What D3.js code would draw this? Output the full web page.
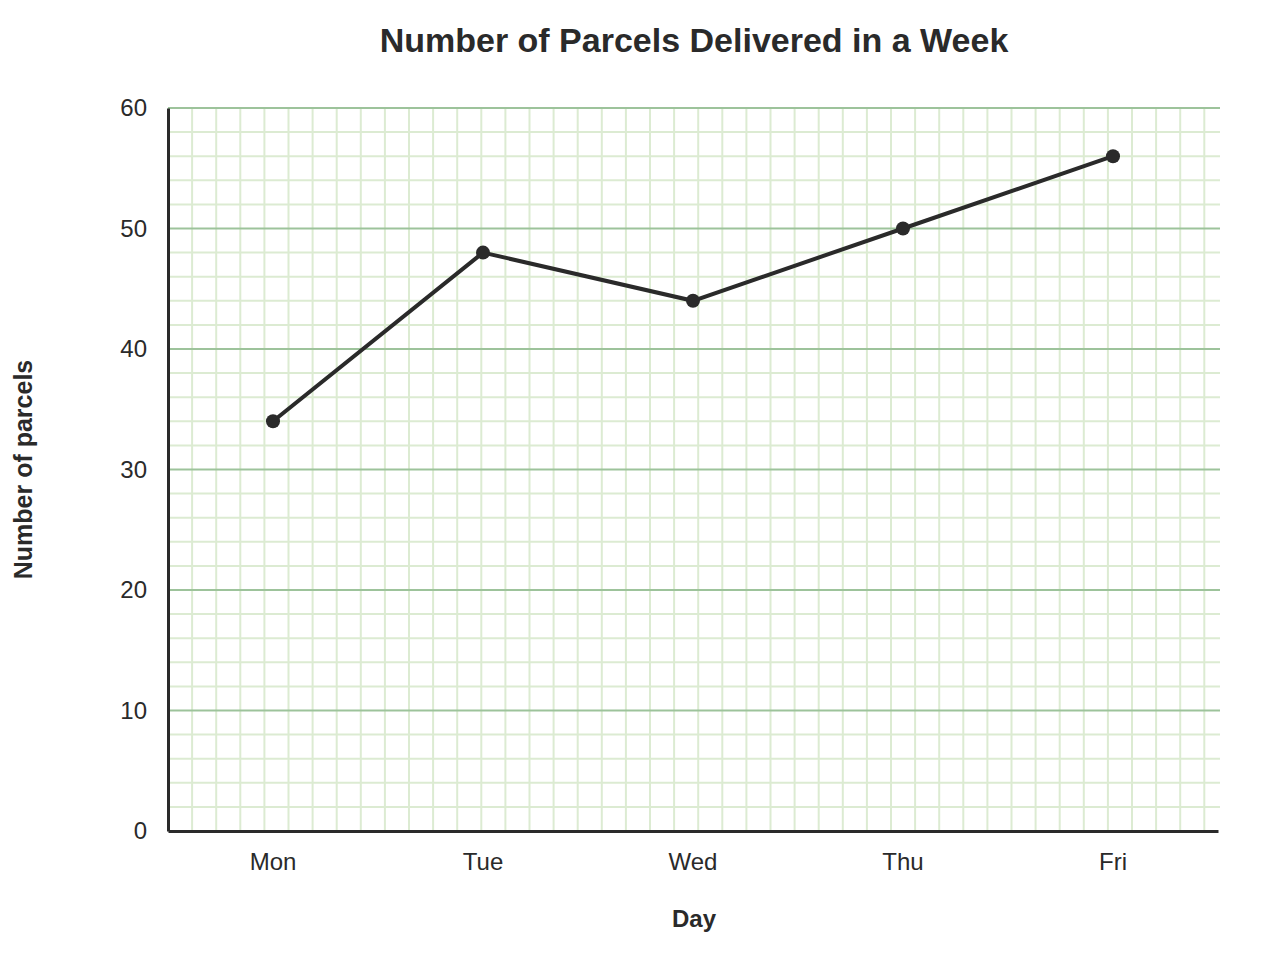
<!DOCTYPE html>
<html>
<head>
<meta charset="utf-8">
<script src="https://cdn.jsdelivr.net/npm/d3@7"></script>
<style>
  body { margin: 0; background: #fff; }
  text { font-family: "Liberation Sans", Arial, sans-serif; }
</style>
</head>
<body>
<div class="chart"></div>
<script>
var days = ["Mon", "Tue", "Wed", "Thu", "Fri"];
var parcels = [34, 48, 44, 50, 56];
var yTicks = [0, 10, 20, 30, 40, 50, 60];

var width = 1280, height = 980;
var margin = {top: 108, right: 62, bottom: 149, left: 168};
var plotW = width - margin.left - margin.right;
var plotH = height - margin.top - margin.bottom;

var svg = d3.select(".chart").append("svg")
    .attr("width", width)
    .attr("height", height);

var x = d3.scaleBand()
    .domain(days)
    .range([margin.left, margin.left + plotW]);

var y = d3.scaleLinear()
    .domain([0, 60])
    .range([margin.top + plotH, margin.top]);

// minor grid, one square = 2 parcels
var step = y(0) - y(2);
var minorY = d3.range(0, 61, 2).filter(function(v) { return v % 10 != 0; });
var minorX = d3.range(margin.left + step, margin.left + plotW + 2, step);

var grid = svg.append("g");
grid.selectAll(".vminor").data(minorX).enter().append("line")
    .attr("x1", function(d) { return d; })
    .attr("x2", function(d) { return d; })
    .attr("y1", margin.top)
    .attr("y2", margin.top + plotH)
    .attr("stroke", "#dcebd2")
    .attr("stroke-width", 2);

grid.selectAll(".hminor").data(minorY).enter().append("line")
    .attr("x1", margin.left)
    .attr("x2", margin.left + plotW + 2)
    .attr("y1", function(d) { return y(d); })
    .attr("y2", function(d) { return y(d); })
    .attr("stroke", "#dcebd2")
    .attr("stroke-width", 2);

grid.selectAll(".hmajor").data(yTicks.slice(1)).enter().append("line")
    .attr("x1", margin.left)
    .attr("x2", margin.left + plotW + 2)
    .attr("y1", function(d) { return y(d); })
    .attr("y2", function(d) { return y(d); })
    .attr("stroke", "#9dc39b")
    .attr("stroke-width", 2);

// axes
var xAxis = svg.append("g")
    .attr("transform", "translate(0," + y(0) + ")")
    .call(d3.axisBottom(x).tickSize(0).tickPadding(22));
xAxis.select(".domain").attr("stroke", "#2a2a2a").attr("stroke-width", 3);
xAxis.selectAll("text").attr("font-size", 24).attr("fill", "#2a2a2a");

var yAxis = svg.append("g")
    .attr("transform", "translate(" + margin.left + ",0)")
    .call(d3.axisLeft(y).tickValues(yTicks).tickSize(0).tickPadding(21));
yAxis.select(".domain").attr("stroke", "#2a2a2a").attr("stroke-width", 3);
yAxis.selectAll("text").attr("font-size", 24).attr("fill", "#2a2a2a");

// line + points
var line = d3.line()
    .x(function(d, i) { return x(days[i]) + x.bandwidth() / 2; })
    .y(function(d) { return y(d); });

svg.append("path")
    .datum(parcels)
    .attr("d", line)
    .attr("fill", "none")
    .attr("stroke", "#2a2a2a")
    .attr("stroke-width", 4);

svg.selectAll(".dot").data(parcels).enter().append("circle")
    .attr("cx", function(d, i) { return x(days[i]) + x.bandwidth() / 2; })
    .attr("cy", function(d) { return y(d); })
    .attr("r", 7)
    .attr("fill", "#2a2a2a");

// titles
svg.append("text")
    .attr("x", margin.left + plotW / 2 + 1)
    .attr("y", 52)
    .attr("text-anchor", "middle")
    .attr("font-size", 34)
    .attr("font-weight", "bold")
    .attr("fill", "#2a2a2a")
    .text("Number of Parcels Delivered in a Week");

svg.append("text")
    .attr("x", margin.left + plotW / 2 + 1)
    .attr("y", 927)
    .attr("text-anchor", "middle")
    .attr("font-size", 24)
    .attr("font-weight", "bold")
    .attr("fill", "#2a2a2a")
    .text("Day");

svg.append("text")
    .attr("transform", "translate(32," + (margin.top + plotH / 2) + ") rotate(-90)")
    .attr("text-anchor", "middle")
    .attr("font-size", 25)
    .attr("font-weight", "bold")
    .attr("fill", "#2a2a2a")
    .text("Number of parcels");
</script>
</body>
</html>
